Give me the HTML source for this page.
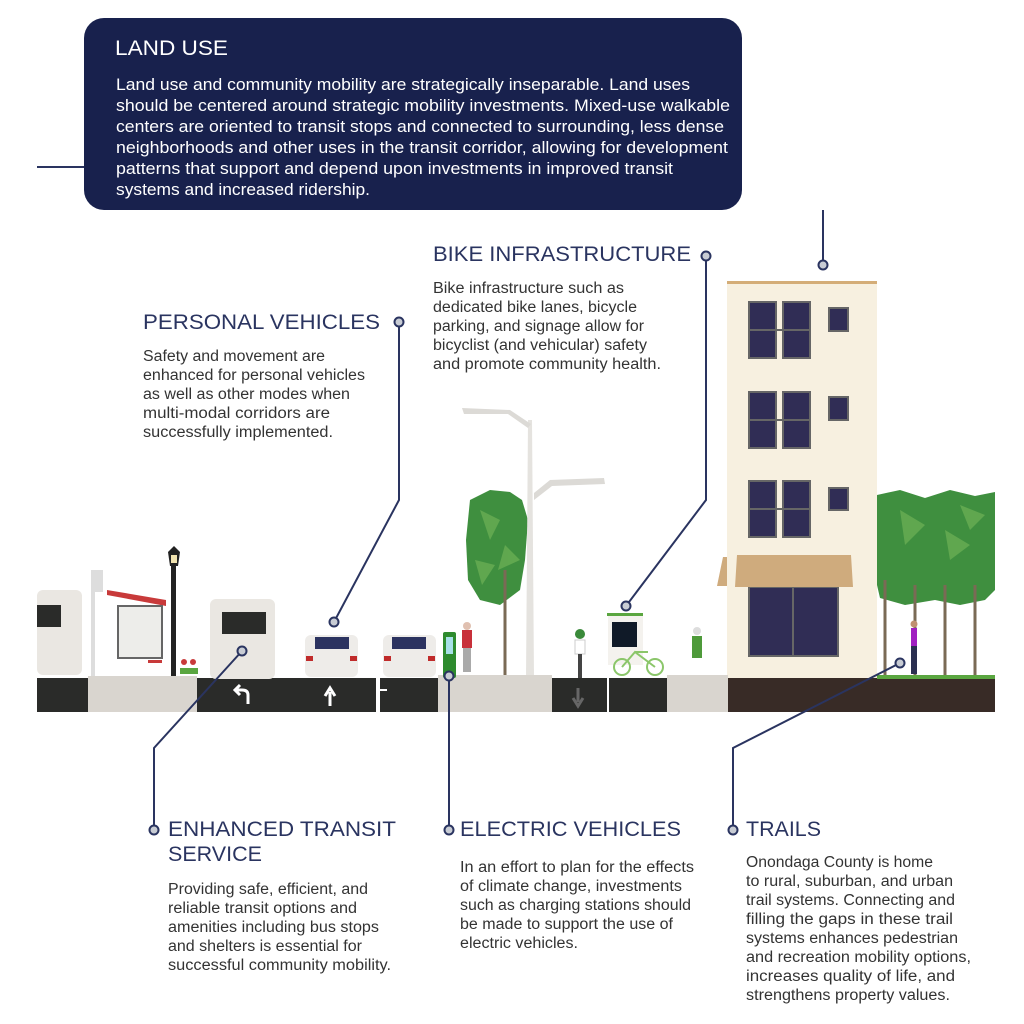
<!DOCTYPE html>
<html><head><meta charset="utf-8"><style>html,body{margin:0;padding:0;background:#fff}svg{display:block}</style></head><body>
<svg width="1024" height="1024" viewBox="0 0 1024 1024" xmlns="http://www.w3.org/2000/svg" font-family="Liberation Sans, sans-serif">
<rect width="1024" height="1024" fill="#fff"/>
<rect x="84" y="18" width="658" height="192" rx="20" fill="#18214d"/>
<g fill="#fff">
<text x="115" y="55" font-size="21" textLength="113" lengthAdjust="spacingAndGlyphs">LAND USE</text>
<g font-size="17">
<text x="116" y="90" textLength="574" lengthAdjust="spacingAndGlyphs">Land use and community mobility are strategically inseparable. Land uses</text>
<text x="116" y="111" textLength="614" lengthAdjust="spacingAndGlyphs">should be centered around strategic mobility investments. Mixed-use walkable</text>
<text x="116" y="132" textLength="608" lengthAdjust="spacingAndGlyphs">centers are oriented to transit stops and connected to surrounding, less dense</text>
<text x="116" y="153" textLength="612" lengthAdjust="spacingAndGlyphs">neighborhoods and other uses in the transit corridor, allowing for development</text>
<text x="116" y="174" textLength="557" lengthAdjust="spacingAndGlyphs">patterns that support and depend upon investments in improved transit</text>
<text x="116" y="195" textLength="254" lengthAdjust="spacingAndGlyphs">systems and increased ridership.</text>
</g></g>
<g fill="#2a3460" font-size="21">
<text x="143" y="329" textLength="237" lengthAdjust="spacingAndGlyphs">PERSONAL VEHICLES</text>
<text x="433" y="261" textLength="258" lengthAdjust="spacingAndGlyphs">BIKE INFRASTRUCTURE</text>
<text x="168" y="836" textLength="228" lengthAdjust="spacingAndGlyphs">ENHANCED TRANSIT</text>
<text x="168" y="861" textLength="94" lengthAdjust="spacingAndGlyphs">SERVICE</text>
<text x="460" y="836" textLength="221" lengthAdjust="spacingAndGlyphs">ELECTRIC VEHICLES</text>
<text x="746" y="836" textLength="75" lengthAdjust="spacingAndGlyphs">TRAILS</text>
</g>
<g fill="#333" font-size="15.5">
<text x="143" y="361" textLength="182" lengthAdjust="spacingAndGlyphs">Safety and movement are</text>
<text x="143" y="380" textLength="222" lengthAdjust="spacingAndGlyphs">enhanced for personal vehicles</text>
<text x="143" y="399" textLength="207" lengthAdjust="spacingAndGlyphs">as well as other modes when</text>
<text x="143" y="418" textLength="187" lengthAdjust="spacingAndGlyphs">multi-modal corridors are</text>
<text x="143" y="437" textLength="190" lengthAdjust="spacingAndGlyphs">successfully implemented.</text>
<text x="433" y="293" textLength="191" lengthAdjust="spacingAndGlyphs">Bike infrastructure such as</text>
<text x="433" y="312" textLength="204" lengthAdjust="spacingAndGlyphs">dedicated bike lanes, bicycle</text>
<text x="433" y="331" textLength="211" lengthAdjust="spacingAndGlyphs">parking, and signage allow for</text>
<text x="433" y="350" textLength="214" lengthAdjust="spacingAndGlyphs">bicyclist (and vehicular) safety</text>
<text x="433" y="369" textLength="228" lengthAdjust="spacingAndGlyphs">and promote community health.</text>
<text x="168" y="894" textLength="200" lengthAdjust="spacingAndGlyphs">Providing safe, efficient, and</text>
<text x="168" y="913" textLength="189" lengthAdjust="spacingAndGlyphs">reliable transit options and</text>
<text x="168" y="932" textLength="211" lengthAdjust="spacingAndGlyphs">amenities including bus stops</text>
<text x="168" y="951" textLength="194" lengthAdjust="spacingAndGlyphs">and shelters is essential for</text>
<text x="168" y="970" textLength="223" lengthAdjust="spacingAndGlyphs">successful community mobility.</text>
<text x="460" y="872" textLength="234" lengthAdjust="spacingAndGlyphs">In an effort to plan for the effects</text>
<text x="460" y="891" textLength="222" lengthAdjust="spacingAndGlyphs">of climate change, investments</text>
<text x="460" y="910" textLength="231" lengthAdjust="spacingAndGlyphs">such as charging stations should</text>
<text x="460" y="929" textLength="213" lengthAdjust="spacingAndGlyphs">be made to support the use of</text>
<text x="460" y="948" textLength="118" lengthAdjust="spacingAndGlyphs">electric vehicles.</text>
<text x="746" y="867" textLength="187" lengthAdjust="spacingAndGlyphs">Onondaga County is home</text>
<text x="746" y="886" textLength="207" lengthAdjust="spacingAndGlyphs">to rural, suburban, and urban</text>
<text x="746" y="905" textLength="209" lengthAdjust="spacingAndGlyphs">trail systems. Connecting and</text>
<text x="746" y="924" textLength="207" lengthAdjust="spacingAndGlyphs">filling the gaps in these trail</text>
<text x="746" y="943" textLength="212" lengthAdjust="spacingAndGlyphs">systems enhances pedestrian</text>
<text x="746" y="962" textLength="225" lengthAdjust="spacingAndGlyphs">and recreation mobility options,</text>
<text x="746" y="981" textLength="209" lengthAdjust="spacingAndGlyphs">increases quality of life, and</text>
<text x="746" y="1000" textLength="204" lengthAdjust="spacingAndGlyphs">strengthens property values.</text>
</g>
<!-- building -->
<rect x="727" y="282" width="150" height="396" fill="#f7f0e0"/>
<rect x="727" y="281" width="150" height="3" fill="#d4ad78"/>
<g fill="#302d55" stroke="#666" stroke-width="2">
<rect x="749" y="302" width="27" height="56"/><rect x="783" y="302" width="27" height="56"/><rect x="829" y="308" width="19" height="23"/>
<rect x="749" y="392" width="27" height="56"/><rect x="783" y="392" width="27" height="56"/><rect x="829" y="397" width="19" height="23"/>
<rect x="749" y="481" width="27" height="56"/><rect x="783" y="481" width="27" height="56"/><rect x="829" y="488" width="19" height="22"/>
<rect x="749" y="587" width="89" height="69"/>
</g>
<g stroke="#666" stroke-width="2"><line x1="749" y1="330" x2="810" y2="330"/><line x1="749" y1="420" x2="810" y2="420"/><line x1="749" y1="509" x2="810" y2="509"/><line x1="793" y1="587" x2="793" y2="656"/></g>
<polygon points="737,555 851,555 853,587 735,587" fill="#cfab7d"/>
<polygon points="723,557 727,557 727,586 717,586" fill="#cfab7d"/>
<!-- trees -->
<g fill="#3f8f3f">
<path d="M470,500 L490,490 L510,492 L522,500 L528,520 L525,560 L520,590 L500,605 L480,600 L468,580 L466,540Z"/>
<path d="M877,495 L900,490 L925,498 L950,490 L975,496 L995,492 L995,590 L985,600 L960,605 L935,600 L905,605 L880,598 L877,585Z"/>
</g>
<g fill="#6fb257" opacity=".7"><path d="M480,510 L500,520 L490,540Z"/><path d="M505,545 L520,560 L498,570Z"/><path d="M475,560 L495,565 L482,585Z"/><path d="M900,510 L925,525 L905,545Z"/><path d="M945,530 L970,545 L950,560Z"/><path d="M960,505 L985,515 L970,530Z"/></g>
<g stroke="#7a6a55" stroke-width="3"><line x1="505" y1="570" x2="505" y2="678"/><line x1="885" y1="580" x2="885" y2="676"/><line x1="915" y1="585" x2="915" y2="676"/><line x1="945" y1="585" x2="945" y2="676"/><line x1="975" y1="585" x2="975" y2="676"/></g>
<!-- street lights -->
<path d="M528,420 L532,420 L534,678 L526,678Z" fill="#e5e3df"/>
<path d="M462,408 L510,410 L531,424 L528,428 L508,414 L464,414Z" fill="#dcdad6"/>
<path d="M534,493 L550,480 L604,478 L605,484 L552,486 L534,500Z" fill="#dcdad6"/>
<rect x="171" y="560" width="5" height="118" fill="#222"/>
<path d="M168,552 L174,546 L180,552 L178,566 L170,566Z" fill="#222"/><rect x="171" y="555" width="6" height="8" fill="#f2e4b0"/>
<!-- ground -->
<rect x="37" y="678" width="51" height="34" fill="#2a2b29"/>
<rect x="88" y="676" width="109" height="36" fill="#d9d5cf"/>
<rect x="197" y="678" width="179" height="34" fill="#2a2b29"/>
<rect x="380" y="678" width="58" height="34" fill="#2a2b29"/>
<rect x="438" y="675" width="114" height="37" fill="#d9d5cf"/>
<rect x="552" y="678" width="55" height="34" fill="#2a2b29"/>
<rect x="609" y="678" width="58" height="34" fill="#2a2b29"/>
<rect x="667" y="675" width="61" height="37" fill="#d9d5cf"/>
<rect x="728" y="678" width="267" height="34" fill="#382b26"/>
<rect x="877" y="675" width="118" height="4" fill="#5aa640"/>
<path d="M380,690 L387,690" stroke="#fff" stroke-width="2"/>
<path d="M330,706 V692 M325,696 L330,688 L335,696" stroke="#fff" stroke-width="3" fill="none"/>
<path d="M248,704 V695 Q248,690 242,690 H237 M240,685 L235,690 L240,695" stroke="#fff" stroke-width="3" fill="none"/>
<path d="M578,688 V702 M573,698 L578,706 L583,698" stroke="#666" stroke-width="3" fill="none"/>
<!-- buses -->
<rect x="37" y="590" width="45" height="85" rx="6" fill="#eae7e2"/><rect x="37" y="605" width="24" height="22" fill="#2a2b29"/>
<rect x="210" y="599" width="65" height="80" rx="6" fill="#eae7e2"/><rect x="222" y="612" width="44" height="22" fill="#2a2b29"/>
<!-- shelter -->
<rect x="91" y="570" width="4" height="106" fill="#ddd"/><rect x="93" y="570" width="10" height="22" fill="#ddd"/>
<path d="M107,590 L166,600 L166,606 L107,595Z" fill="#c83a3a"/>
<rect x="118" y="606" width="44" height="52" fill="#ededea" stroke="#666" stroke-width="2"/>
<rect x="148" y="660" width="14" height="3" fill="#c83a3a"/>
<g fill="#c83a3a"><circle cx="184" cy="662" r="3"/><circle cx="193" cy="662" r="3"/></g><rect x="180" y="668" width="18" height="6" fill="#5aa640"/>
<!-- cars -->
<g fill="#eeece9"><rect x="305" y="635" width="53" height="42" rx="6"/><rect x="383" y="635" width="53" height="42" rx="6"/></g>
<g fill="#2c3360"><rect x="315" y="637" width="34" height="12"/><rect x="392" y="637" width="34" height="12"/></g>
<g fill="#c02b2b"><rect x="306" y="656" width="7" height="5"/><rect x="350" y="656" width="7" height="5"/><rect x="384" y="656" width="7" height="5"/><rect x="428" y="656" width="7" height="5"/></g>
<!-- charger -->
<rect x="443" y="632" width="13" height="46" rx="2" fill="#2e8b2e"/><rect x="446" y="637" width="7" height="17" fill="#a8e0e8"/>
<!-- people -->
<rect x="462" y="630" width="10" height="18" fill="#c8303a"/><rect x="463" y="648" width="8" height="24" fill="#aaa"/><circle cx="467" cy="626" r="4" fill="#e0c0b0"/>
<rect x="575" y="640" width="10" height="14" fill="#fff" stroke="#ccc"/><circle cx="580" cy="634" r="5" fill="#3a8a3a"/><rect x="578" y="654" width="4" height="24" fill="#444"/>
<rect x="608" y="615" width="35" height="50" fill="#f4f2ee"/><rect x="607" y="613" width="36" height="3" fill="#5aa640"/><rect x="612" y="622" width="25" height="25" fill="#101a28"/>
<g stroke="#8bc66a" stroke-width="2" fill="none"><circle cx="622" cy="667" r="8"/><circle cx="655" cy="667" r="8"/><path d="M622,667 L635,652 L655,667 M635,652 L648,652"/></g>
<rect x="692" y="636" width="10" height="22" fill="#4e9a3a"/><circle cx="697" cy="631" r="4" fill="#ddd"/>
<rect x="911" y="628" width="6" height="18" fill="#a020c0"/><rect x="911" y="646" width="6" height="28" fill="#2a2f50"/><circle cx="914" cy="624" r="3.5" fill="#c09070"/>
<!-- connectors on top -->
<g stroke="#2a3460" stroke-width="2" fill="none">
<line x1="37" y1="167" x2="84" y2="167"/>
<polyline points="823,210 823,265"/>
<polyline points="399,322 399,500 334,622"/>
<polyline points="706,256 706,500 626,606"/>
<polyline points="242,651 154,748 154,830"/>
<polyline points="449,676 449,830"/>
<polyline points="900,663 733,748 733,830"/>
</g>
<g fill="#c8ccd4" stroke="#2a3460" stroke-width="2">
<circle cx="823" cy="265" r="4.5"/><circle cx="399" cy="322" r="4.5"/><circle cx="334" cy="622" r="4.5"/>
<circle cx="706" cy="256" r="4.5"/><circle cx="626" cy="606" r="4.5"/><circle cx="242" cy="651" r="4.5"/>
<circle cx="154" cy="830" r="4.5"/><circle cx="449" cy="676" r="4.5"/><circle cx="449" cy="830" r="4.5"/>
<circle cx="900" cy="663" r="4.5"/><circle cx="733" cy="830" r="4.5"/>
</g>
</svg>
</body></html>
